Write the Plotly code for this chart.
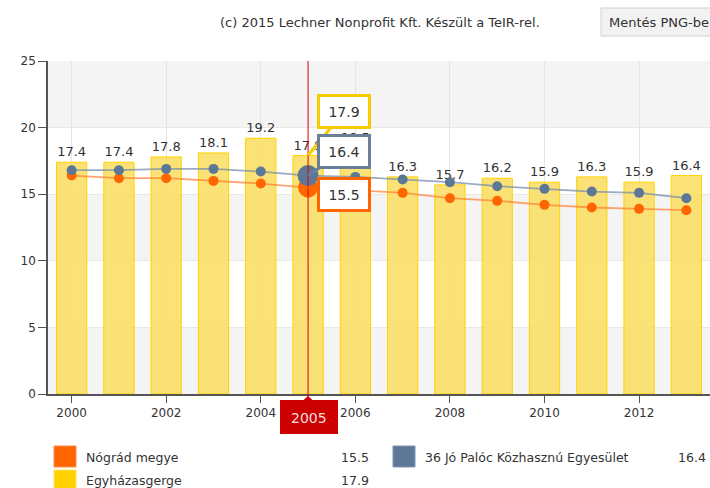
import plotly.graph_objects as go

years = list(range(2000, 2014))
egyhazasgerge = [17.4, 17.4, 17.8, 18.1, 19.2, 17.9, 18.5, 16.3, 15.7, 16.2, 15.9, 16.3, 15.9, 16.4]
nograd = [16.4, 16.2, 16.2, 16.0, 15.8, 15.5, 15.3, 15.1, 14.7, 14.5, 14.2, 14.0, 13.9, 13.8]
palocz = [16.8, 16.8, 16.9, 16.9, 16.7, 16.4, 16.3, 16.1, 15.9, 15.6, 15.4, 15.2, 15.1, 14.7]
x_ticks = [2000, 2002, 2004, 2006, 2008, 2010, 2012]
y_ticks = [0, 5, 10, 15, 20, 25]
sel_year = 2005
names = ["Nógrád megye", "36 Jó Palóc Közhasznú Egyesület", "Egyházasgerge"]
title_text = "(c) 2015 Lechner Nonprofit Kft. Készült a TeIR-rel."
button_text = "Mentés PNG-be"

W, H = 710, 488
L, R, T, B = 48, 0, 61, 94
PW, PH = W - L - R, H - T - B


def px(xp):
    return (xp - L) / PW


def py(yp):
    return (H - B - yp) / PH


FONT = "DejaVu Sans"
TXT = "#333333"
ORANGE = "#ff6600"
BLUE = "#5d7797"
YELLOW = "#ffd200"

sel_i = years.index(sel_year)

fig = go.Figure()
fig.add_trace(go.Bar(
    x=years, y=egyhazasgerge, width=0.64,
    marker=dict(color="rgba(250,222,100,0.88)", line=dict(color=YELLOW, width=1)),
    text=[f"{v:.1f}" for v in egyhazasgerge], textposition="outside",
    textfont=dict(family=FONT, size=13, color=TXT), cliponaxis=False,
    hoverinfo="skip", showlegend=False,
))
fig.add_trace(go.Scatter(
    x=years, y=nograd, mode="lines+markers",
    line=dict(color="rgba(255,125,50,0.7)", width=1.8),
    marker=dict(color=ORANGE, opacity=1, line=dict(width=0),
                size=[20 if y == sel_year else 10 for y in years]),
    showlegend=False, hoverinfo="skip",
))
fig.add_trace(go.Scatter(
    x=years, y=palocz, mode="lines+markers",
    line=dict(color="rgba(120,143,170,0.75)", width=1.8),
    marker=dict(color=BLUE, opacity=1, line=dict(width=0),
                size=[21 if y == sel_year else 10 for y in years]),
    showlegend=False, hoverinfo="skip",
))

shapes = []
for y0, y1 in [(0, 5), (10, 15), (20, 25)]:
    shapes.append(dict(type="rect", xref="paper", yref="y", x0=0, x1=1, y0=y0, y1=y1,
                       fillcolor="#f4f4f4", line=dict(width=0), layer="below"))
shapes.append(dict(type="line", xref="x", yref="paper", x0=sel_year, x1=sel_year,
                   y0=py(398), y1=1, line=dict(color="#dd0000", width=1)))
shapes.append(dict(type="rect", xref="paper", yref="paper", x0=px(601), x1=px(712),
                   y0=py(36), y1=py(8), fillcolor="#f2f2f2", line=dict(color="#d0d0d0", width=1)))
shapes.append(dict(type="rect", xref="paper", yref="paper", x0=px(280), x1=px(338),
                   y0=py(434), y1=py(400), fillcolor="#cc0000", line=dict(width=0)))
shapes.append(dict(type="path", xref="paper", yref="paper",
                   path=f"M {px(303)},{py(400.5)} L {px(308)},{py(396)} L {px(313)},{py(400.5)} Z",
                   fillcolor="#cc0000", line=dict(width=0)))
legend_sq = [(54, 446, ORANGE, "#ff8a4a"), (393, 446, BLUE, "#8197b3"), (54, 470, YELLOW, "#ffe25a")]
for x0, y0, c, lc in legend_sq:
    shapes.append(dict(type="rect", xref="paper", yref="paper", x0=px(x0), x1=px(x0 + 22),
                       y0=py(y0 + 21), y1=py(y0), fillcolor=c, line=dict(color=lc, width=1)))

annotations = []
annotations.append(dict(xref="paper", yref="paper", x=px(380), y=py(22), text=title_text,
                        showarrow=False, xanchor="center", yanchor="middle",
                        font=dict(family=FONT, size=13, color=TXT)))
annotations.append(dict(xref="paper", yref="paper", x=px(607), y=py(22), text=button_text,
                        showarrow=False, xanchor="left", yanchor="middle",
                        font=dict(family=FONT, size=13, color=TXT)))
annotations.append(dict(xref="paper", yref="paper", x=px(309), y=py(418), text=str(sel_year),
                        showarrow=False, xanchor="center", yanchor="middle",
                        font=dict(family=FONT, size=14, color="#f4dede")))
sel_vals = [nograd[sel_i], palocz[sel_i], egyhazasgerge[sel_i]]
leg_pos = [(84, 371, 457), (423, 708, 457), (84, 371, 480)]
for (tx, vx, ty), nm, v in zip(leg_pos, names, sel_vals):
    annotations.append(dict(xref="paper", yref="paper", x=px(tx), y=py(ty), text=nm,
                            showarrow=False, xanchor="left", yanchor="middle",
                            font=dict(family=FONT, size=12.5, color=TXT)))
    annotations.append(dict(xref="paper", yref="paper", x=px(vx), y=py(ty), text=f"{v:.1f}",
                            showarrow=False, xanchor="right", yanchor="middle",
                            font=dict(family=FONT, size=12.5, color=TXT)))
tips = [(egyhazasgerge[sel_i], "#f5cc00", -44), (palocz[sel_i], "#6a7f99", -24), (nograd[sel_i], ORANGE, 7)]
for v, c, ay in tips:
    annotations.append(dict(xref="x", yref="y", x=sel_year, y=v, ax=36, ay=ay,
                            text=f"{v:.1f}", showarrow=True, arrowhead=0, arrowwidth=3,
                            arrowcolor=c, bordercolor=c, borderwidth=3, bgcolor="white",
                            width=46, height=27, align="center",
                            font=dict(family=FONT, size=14, color=TXT)))

fig.update_layout(
    width=W, height=H, autosize=False,
    margin=dict(l=L, r=R, t=T, b=B, pad=0),
    paper_bgcolor="white", plot_bgcolor="white",
    font=dict(family=FONT, size=12, color=TXT),
    bargap=0.3, showlegend=False,
    shapes=shapes, annotations=annotations,
    xaxis=dict(range=[1999.5, 2013.5], tickvals=x_ticks, ticktext=[str(t) for t in x_ticks],
               showgrid=True, gridcolor="#e4e4e4", gridwidth=1,
               ticks="outside", ticklen=7, tickcolor="#555", showline=True,
               linecolor="#555", linewidth=1.5, zeroline=False,
               tickfont=dict(family=FONT, size=12, color=TXT)),
    yaxis=dict(range=[0, 25], tickvals=y_ticks, showgrid=True, gridcolor="#e8e8e8",
               ticks="outside", ticklen=8, tickcolor="#555", showline=True,
               linecolor="#555", linewidth=1.5, zeroline=False,
               tickfont=dict(family=FONT, size=12, color=TXT)),
)

fig.write_html("out.html", config={"displayModeBar": False},
               post_script="document.body.style.margin='0';document.body.style.overflow='hidden';")
